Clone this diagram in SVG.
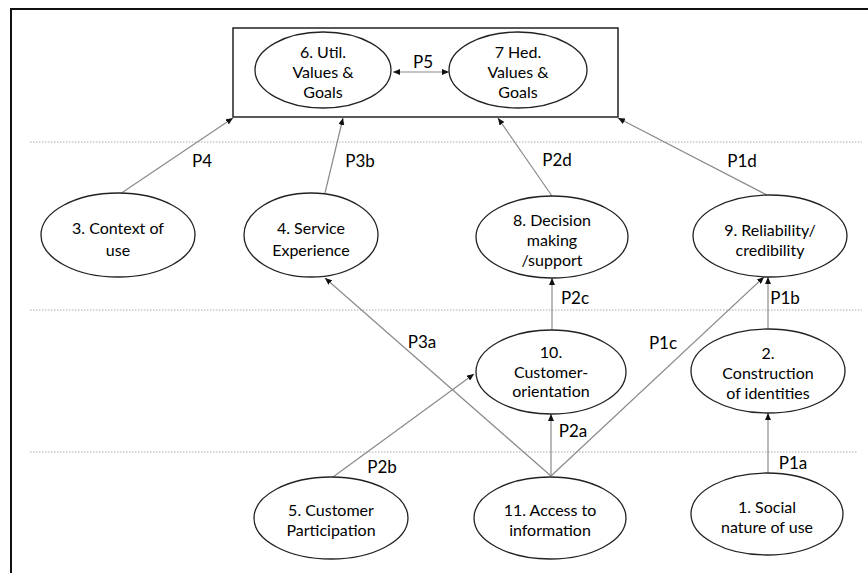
<svg xmlns="http://www.w3.org/2000/svg" width="868" height="573" viewBox="0 0 868 573">
<defs>
<marker id="ah" markerWidth="7" markerHeight="6" refX="7" refY="3" orient="auto" markerUnits="userSpaceOnUse">
<path d="M0,0 L7,3 L0,6 z" fill="#111"/>
</marker>
<marker id="ahs" markerWidth="7" markerHeight="6" refX="0" refY="3" orient="auto" markerUnits="userSpaceOnUse">
<path d="M7,0 L0,3 L7,6 z" fill="#111"/>
</marker>
<style>
.n ellipse{fill:#fff;stroke:#222;stroke-width:1.3}
text{font-family:Lato,"Open Sans","Liberation Sans",sans-serif;font-size:16px;fill:#000;text-anchor:middle}
.c line{stroke:#8a8a8a;stroke-width:1.2;marker-end:url(#ah)}
.d{stroke:#aaa;stroke-width:1;stroke-dasharray:1.5 1.5}
.lbl{font-size:17px}
</style>
</defs>
<rect width="868" height="573" fill="#fff"/>
<path d="M11,573 V9 H868" fill="none" stroke="#111" stroke-width="2"/>
<line class="d" x1="30" y1="142" x2="862" y2="142"/>
<line class="d" x1="30" y1="310" x2="862" y2="310"/>
<line class="d" x1="30" y1="452" x2="858" y2="452"/>
<rect x="233" y="28" width="385" height="89" fill="none" stroke="#222" stroke-width="1.5"/>
<g class="c" id="connectors">
<line x1="393" y1="72" x2="449" y2="72" marker-start="url(#ahs)"/>
<line x1="120" y1="194" x2="233" y2="118"/>
<line x1="325" y1="193" x2="343" y2="118"/>
<line x1="552" y1="196" x2="498" y2="118"/>
<line x1="767" y1="195" x2="618" y2="118"/>
<line x1="552" y1="330" x2="552" y2="278"/>
<line x1="768" y1="329" x2="768" y2="277"/>
<line x1="551" y1="476" x2="764" y2="277"/>
<line x1="551" y1="476" x2="325" y2="278"/>
<line x1="551" y1="476" x2="551" y2="414"/>
<line x1="333" y1="477" x2="474" y2="374"/>
<line x1="768" y1="473" x2="768" y2="413"/>
</g>
<g id="labels">
<text class="lbl" x="423" y="68">P5</text>
<text class="lbl" x="202" y="167">P4</text>
<text class="lbl" x="360" y="167">P3b</text>
<text class="lbl" x="557" y="166">P2d</text>
<text class="lbl" x="742" y="167">P1d</text>
<text class="lbl" x="575" y="304">P2c</text>
<text class="lbl" x="785" y="304">P1b</text>
<text class="lbl" x="422" y="348">P3a</text>
<text class="lbl" x="663" y="349">P1c</text>
<text class="lbl" x="573" y="437">P2a</text>
<text class="lbl" x="793" y="469">P1a</text>
<text class="lbl" x="382" y="473">P2b</text>
</g>
<g class="n" id="n6"><ellipse cx="323" cy="70" rx="68" ry="38"/><text x="323" y="58">6. Util.</text><text x="323" y="78">Values &amp;</text><text x="323" y="98">Goals</text></g>
<g class="n" id="n7"><ellipse cx="518" cy="70" rx="69" ry="38"/><text x="518" y="58">7 Hed.</text><text x="518" y="78">Values &amp;</text><text x="518" y="98">Goals</text></g>
<g class="n" id="n3"><ellipse cx="118" cy="235" rx="77" ry="42"/><text x="118" y="234">3. Context of</text><text x="118" y="256">use</text></g>
<g class="n" id="n4"><ellipse cx="311" cy="235" rx="67" ry="42"/><text x="311" y="234">4. Service</text><text x="311" y="256">Experience</text></g>
<g class="n" id="n8"><ellipse cx="552" cy="237" rx="76" ry="41"/><text x="552" y="226">8. Decision</text><text x="552" y="246">making</text><text x="552" y="266">/support</text></g>
<g class="n" id="n9"><ellipse cx="770" cy="236" rx="77" ry="41"/><text x="770" y="236">9. Reliability/</text><text x="770" y="256">credibility</text></g>
<g class="n" id="n10"><ellipse cx="551" cy="372" rx="75" ry="42"/><text x="551" y="358">10.</text><text x="551" y="378">Customer-</text><text x="551" y="397">orientation</text></g>
<g class="n" id="n2"><ellipse cx="768" cy="371" rx="77" ry="42"/><text x="768" y="359">2.</text><text x="768" y="379">Construction</text><text x="768" y="399">of identities</text></g>
<g class="n" id="n5"><ellipse cx="331" cy="518" rx="77" ry="41"/><text x="331" y="516">5. Customer</text><text x="331" y="536">Participation</text></g>
<g class="n" id="n11"><ellipse cx="550" cy="518" rx="76" ry="41"/><text x="550" y="516">11. Access to</text><text x="550" y="536">information</text></g>
<g class="n" id="n1"><ellipse cx="767" cy="514" rx="76" ry="41"/><text x="767" y="513">1. Social</text><text x="767" y="533">nature of use</text></g>
</svg>
